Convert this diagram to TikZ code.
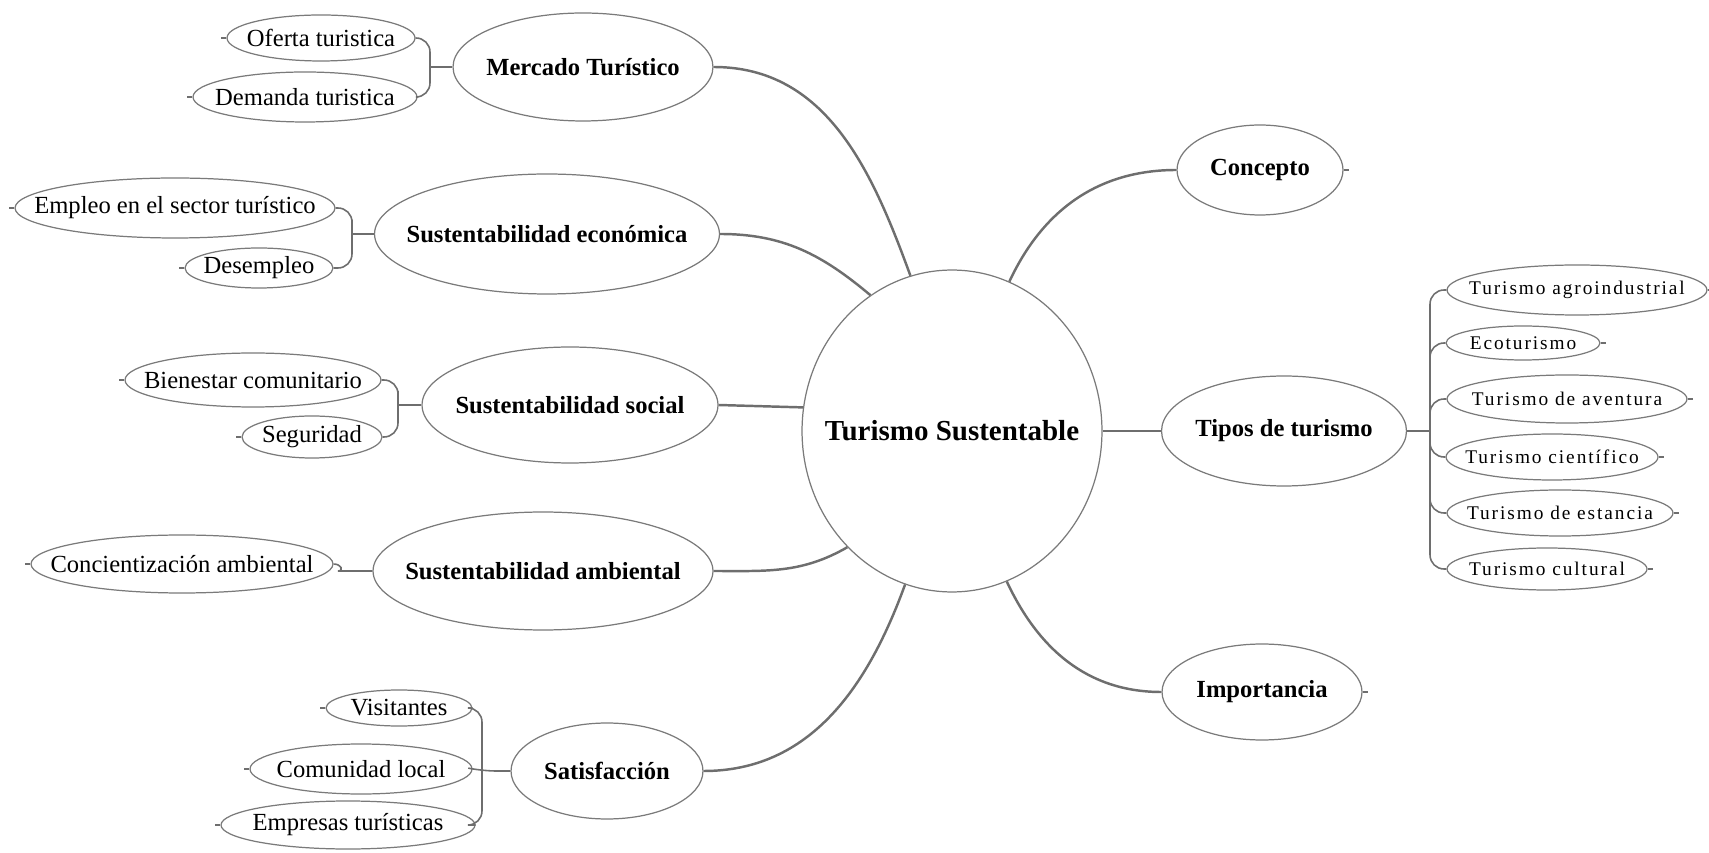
\documentclass[tikz,border=0pt]{standalone}
\usepackage{fontspec}
\setmainfont{Liberation Serif}
\newfontfamily\spacedfont[LetterSpace=10]{Liberation Serif}
\usetikzlibrary{shapes.geometric}
\definecolor{line_gray}{HTML}{6E6E6E}
\definecolor{edge_gray}{HTML}{7A7A7A}

\tikzset{
  bubble/.style 2 args={ellipse, draw=edge_gray, line width=0.7pt, inner sep=0pt,
    minimum width=#1, minimum height=#2,
    execute at begin node={\hbox to 0pt\bgroup\hss},
    execute at end node={\hss\egroup}},
  hub/.style={bubble={6cm}{6.44cm}, font=\fontsize{16.5}{18}\selectfont\bfseries},
  topic/.style 2 args={bubble={#1}{#2}, font=\fontsize{14}{16}\selectfont\bfseries},
  leaf/.style 2 args={bubble={#1}{#2}, font=\fontsize{14}{16}\selectfont},
  kind/.style 2 args={bubble={#1}{#2}, font=\spacedfont\fontsize{11}{13}\selectfont},
  branch/.style={draw=line_gray, line width=1.4pt},
  twig/.style={draw=line_gray, line width=0.9pt, rounded corners=8pt},
  stub/.style={draw=line_gray, line width=0.6pt},
}

\begin{document}
\begin{tikzpicture}[x=0.02cm, y=0.02cm]
  \useasboundingbox (0,0) rectangle (1709,852);

  % centre
  \node[hub] (ts) at (952,421) {Turismo Sustentable};

  % left topics
  \node[topic={5.2cm}{2.16cm}] (mt) at (583,785) {Mercado Turístico};
  \node[topic={6.9cm}{2.4cm}] (se) at (547,618) {Sustentabilidad económica};
  \node[topic={5.92cm}{2.32cm}] (ss) at (570,447) {Sustentabilidad social};
  \node[topic={6.8cm}{2.36cm}] (sa) at (543,281) {Sustentabilidad ambiental};
  \node[topic={3.84cm}{1.92cm}] (sf) at (607,81) {Satisfacción};

  % right topics
  \node[topic={3.32cm}{1.8cm}] (cp) at (1260,682) {Concepto};
  \node[topic={4.9cm}{2.2cm}] (tt) at (1284,421) {Tipos de turismo};
  \node[topic={4cm}{1.92cm}] (im) at (1262,160) {Importancia};

  % left leaves
  \node[leaf={3.76cm}{0.92cm}] (of) at (321,814) {Oferta turistica};
  \node[leaf={4.48cm}{1cm}] (dt) at (305,755) {Demanda turistica};
  \node[leaf={6.4cm}{1.2cm}] (ep) at (175,644) {Empleo en el sector turístico};
  \node[leaf={2.96cm}{0.8cm}] (de) at (259,584) {Desempleo};
  \node[leaf={5.12cm}{1.08cm}] (bc) at (253,472) {Bienestar comunitario};
  \node[leaf={2.8cm}{0.84cm}] (sg) at (312,415) {Seguridad};
  \node[leaf={6.04cm}{1.16cm}] (ca) at (182,288) {Concientización ambiental};
  \node[leaf={2.92cm}{0.72cm}] (vi) at (399,144) {Visitantes};
  \node[leaf={4.44cm}{1cm}] (cl) at (361,83) {Comunidad local};
  \node[leaf={5.08cm}{0.96cm}] (et) at (348,27) {Empresas turísticas};

  % types of tourism
  \node[kind={5.2cm}{1cm}] (t1) at (1577,562) {Turismo agroindustrial};
  \node[kind={3.08cm}{0.68cm}] (t2) at (1523,509) {Ecoturismo};
  \node[kind={4.8cm}{0.96cm}] (t3) at (1567,453) {Turismo de aventura};
  \node[kind={4.24cm}{0.92cm}] (t4) at (1552,395) {Turismo científico};
  \node[kind={4.52cm}{0.92cm}] (t5) at (1560,339) {Turismo de estancia};
  \node[kind={4cm}{0.84cm}] (t6) at (1547,283) {Turismo cultural};

  % main branches
  \draw[branch] (ts.105) to[out=110, in=0] (mt.east);
  \draw[branch] (ts.121) to[out=140, in=0] (se.east);
  \draw[branch] (ts.171) -- (ss.east);
  \draw[branch] (ts.228) to[out=210, in=0] (sa.east);
  \draw[branch] (ts.253) to[out=250, in=0] (sf.east);
  \draw[branch] (ts.69) to[out=65, in=180] (cp.west);
  \draw[branch] (ts.east) -- (tt.west);
  \draw[branch] (ts.290) to[out=-65, in=180] (im.west);

  % junctions
  \coordinate (mtj) at (430,785);
  \coordinate (sej) at (352,618);
  \coordinate (ssj) at (398,447);
  \coordinate (saj) at (352,281);
  \coordinate (sfj) at (482,81);
  \coordinate (ttj) at (1430,421);

  \draw[twig] (of.east) -| (mtj) |- (dt.east);
  \draw[twig] (mtj) -- (mt.west);
  \draw[twig] (ep.east) -| (sej) |- (de.east);
  \draw[twig] (sej) -- (se.west);
  \draw[twig] (bc.east) -| (ssj) |- (sg.east);
  \draw[twig] (ssj) -- (ss.west);
  \draw[twig] (ca.east) to[out=0, in=180] (saj) -- (sa.west);
  \draw[twig] (vi.east) -| (sfj) |- (et.east);
  \draw[twig] (cl.east) -- (sfj) -- (sf.west);
  \draw[twig] (tt.east) -- (ttj);
  \foreach \n in {t1,t2,t3,t4,t5,t6}
    \draw[twig] (ttj) |- (\n.west);

  % small stubs
  \foreach \n in {of,dt,ep,de,bc,sg,ca,vi,cl,et}
    \draw[stub] (\n.west) -- ++(-5,0);
  \foreach \n in {cp,im,t1,t2,t3,t4,t5,t6}
    \draw[stub] (\n.east) -- ++(5,0);

\end{tikzpicture}
\end{document}
